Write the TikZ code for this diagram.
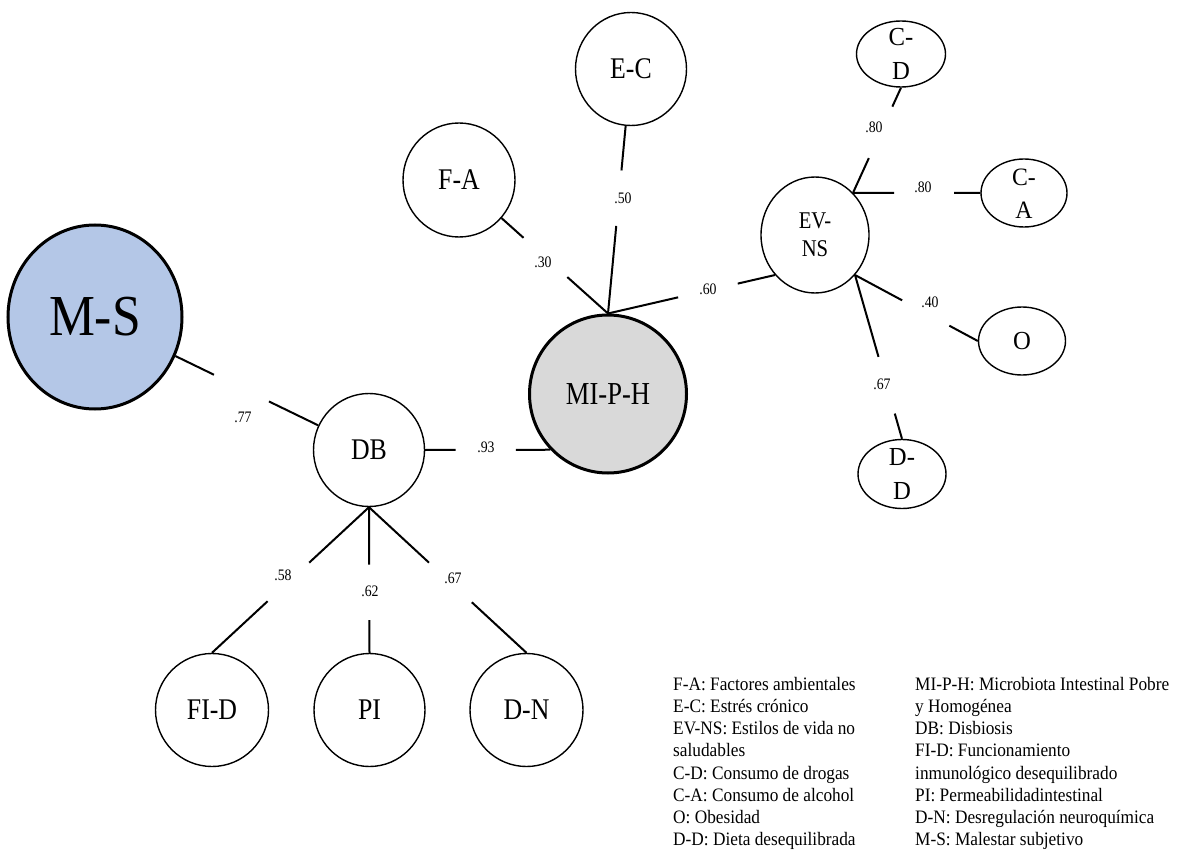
\documentclass[tikz,border=0pt]{standalone}
\usepackage{fontspec}
\setmainfont{Liberation Serif}
\usetikzlibrary{shapes.geometric,calc}
\definecolor{msblue}{HTML}{B4C7E7}
\definecolor{mgray}{HTML}{D9D9D9}
\newcommand{\hs}[2][0.86]{\scalebox{#1}[1]{#2}}
\begin{document}
\begin{tikzpicture}[x=1pt,y=-1pt,
  nd/.style={ellipse, draw=black, line width=1.4pt, fill=white, inner sep=0pt},
  bignd/.style={nd, line width=3pt},
  txt/.style={font=\fontsize{30}{36}\selectfont, inner sep=0pt},
  txtm/.style={font=\fontsize{24}{28}\selectfont, inner sep=0pt},
  txts/.style={font=\fontsize{26}{34}\selectfont, inner sep=0pt},
  edge/.style={line width=2pt},
  wt/.style={font=\fontsize{16}{16}\selectfont, inner sep=0pt},
  leg/.style={font=\fontsize{19}{22.1}\selectfont, inner sep=0pt, anchor=north west}
]
\useasboundingbox[fill=white] (0,0) rectangle (1178,850);

% nodes
\node[bignd, fill=msblue, minimum width=174pt, minimum height=184pt] (MS) at (95,317) {};
\node[bignd, fill=mgray, minimum width=157pt, minimum height=158pt] (MIPH) at (608,394) {};
\node[nd, minimum width=112pt, minimum height=114pt] (FA) at (459,180) {};
\node[nd, minimum width=111pt, minimum height=113pt] (EC) at (631,69) {};
\node[nd, minimum width=108pt, minimum height=116pt] (EVNS) at (815,235) {};
\node[nd, minimum width=89pt, minimum height=66pt] (CD) at (901,54) {};
\node[nd, minimum width=86pt, minimum height=68pt] (CA) at (1024,193) {};
\node[nd, minimum width=87pt, minimum height=68pt] (O) at (1022,341) {};
\node[nd, minimum width=88pt, minimum height=69pt] (DD) at (902,474) {};
\node[nd, minimum width=111pt, minimum height=113pt] (DB) at (369,450) {};
\node[nd, minimum width=113pt, minimum height=113pt] (FID) at (212,710) {};
\node[nd, minimum width=111pt, minimum height=113pt] (PI) at (369.5,710) {};
\node[nd, minimum width=113pt, minimum height=113pt] (DN) at (526.5,710) {};

% node texts
\node[inner sep=0pt, font=\fontsize{58}{60}\selectfont] (MSt) at (MS) {\hs[0.89]{M-S}};
\node[inner sep=0pt, font=\fontsize{32}{36}\selectfont] (MIPHt) at (MIPH) {\hs[0.83]{MI-P-H}};
\node[txt] (FAt) at (FA) {\hs{F-A}};
\node[txt] (ECt) at (EC) {\hs{E-C}};
\node[txtm] (EVNSt) at ($(EVNS)+(0,2)$) {\hs{\begin{tabular}{@{}c@{}}EV-\\NS\end{tabular}}};
\node[txts] (CDt) at ($(CD)+(0,2)$) {\hs[0.95]{\begin{tabular}{@{}c@{}}C-\\D\end{tabular}}};
\node[font=\fontsize{25}{33}\selectfont, inner sep=0pt] (CAt) at ($(CA)+(0,2)$) {\hs[0.95]{\begin{tabular}{@{}c@{}}C-\\A\end{tabular}}};
\node[txts] (Ot) at (O) {\hs[0.95]{O}};
\node[txts] (DDt) at ($(DD)+(0,2)$) {\hs[0.95]{\begin{tabular}{@{}c@{}}D-\\D\end{tabular}}};
\node[txt] (DBt) at (DB) {\hs{DB}};
\node[txt] (FIDt) at (FID) {\hs{FI-D}};
\node[txt] (PIt) at (PI) {\hs{PI}};
\node[txt] (DNt) at (DN) {\hs{D-N}};

% connectors
\draw[edge] (MS) -- ($(MS)!0.434!(DB)$) ($(MS)!0.635!(DB)$) -- (DB);
\draw[edge] (DB.east) -- ($(DB.east)!0.244!(MIPH.224)$) ($(DB.east)!0.724!(MIPH.224)$) -- (MIPH.224);
\draw[edge] (MIPH.north) -- ($(MIPH.north)!0.273!(FA)$) ($(MIPH.north)!0.567!(FA)$) -- (FA);
\draw[edge] (MIPH.north) -- ($(MIPH.north)!0.358!(EC)$) ($(MIPH.north)!0.585!(EC)$) -- (EC);
\draw[edge] (MIPH.north) -- ($(MIPH.north)!0.42!(EVNS.225)$) ($(MIPH.north)!0.777!(EVNS.225)$) -- (EVNS.225);
\draw[edge] (EVNS.48) -- ($(EVNS.48)!0.33!(CD.south)$) ($(EVNS.48)!0.82!(CD.south)$) -- (CD.south);
\draw[edge] (EVNS.48) -- ($(EVNS.48)!0.323!(CA.west)$) ($(EVNS.48)!0.795!(CA.west)$) -- (CA.west);
\draw[edge] (EVNS.-45) -- ($(EVNS.-45)!0.384!(O.west)$) ($(EVNS.-45)!0.768!(O.west)$) -- (O.west);
\draw[edge] (EVNS.-45) -- ($(EVNS.-45)!0.5!(DD.north)$) ($(EVNS.-45)!0.846!(DD.north)$) -- (DD.north);
\draw[edge] (DB.south) -- ($(DB.south)!0.381!(FID.north)$) ($(DB.south)!0.646!(FID.north)$) -- (FID.north);
\draw[edge] (DB.south) -- ($(DB.south)!0.395!(PI.north)$) ($(DB.south)!0.776!(PI.north)$) -- (PI.north);
\draw[edge] (DB.south) -- ($(DB.south)!0.381!(DN.north)$) ($(DB.south)!0.653!(DN.north)$) -- (DN.north);

% connector labels
\node[wt] (l50) at (623,198) {\hs{.50}};
\node[wt] (l30) at (543,262) {\hs{.30}};
\node[wt] (l60) at (708,289) {\hs{.60}};
\node[wt] (l80a) at (874,127) {\hs{.80}};
\node[wt] (l80b) at (923,187) {\hs{.80}};
\node[wt] (l40) at (930,302) {\hs{.40}};
\node[wt] (l67a) at (882,384) {\hs{.67}};
\node[wt] (l77) at (243,417) {\hs{.77}};
\node[wt] (l93) at (486,447) {\hs{.93}};
\node[wt] (l58) at (283,575) {\hs{.58}};
\node[wt] (l62) at (370,591) {\hs{.62}};
\node[wt] (l67b) at (453,578) {\hs{.67}};

% legend
\node[leg] (legL) at (673,675) {\hs[0.91]{\begin{tabular}{@{}l@{}}
F-A: Factores ambientales\\
E-C: Estrés crónico\\
EV-NS: Estilos de vida no\\
saludables\\
C-D: Consumo de drogas\\
C-A: Consumo de alcohol\\
O: Obesidad\\
D-D: Dieta desequilibrada
\end{tabular}}};
\node[leg] (legR) at (915,675) {\hs[0.91]{\begin{tabular}{@{}l@{}}
MI-P-H: Microbiota Intestinal Pobre\\
y Homogénea\\
DB: Disbiosis\\
FI-D: Funcionamiento\\
inmunológico desequilibrado\\
PI: Permeabilidadintestinal\\
D-N: Desregulación neuroquímica\\
M-S: Malestar subjetivo
\end{tabular}}};
\end{tikzpicture}
\end{document}
